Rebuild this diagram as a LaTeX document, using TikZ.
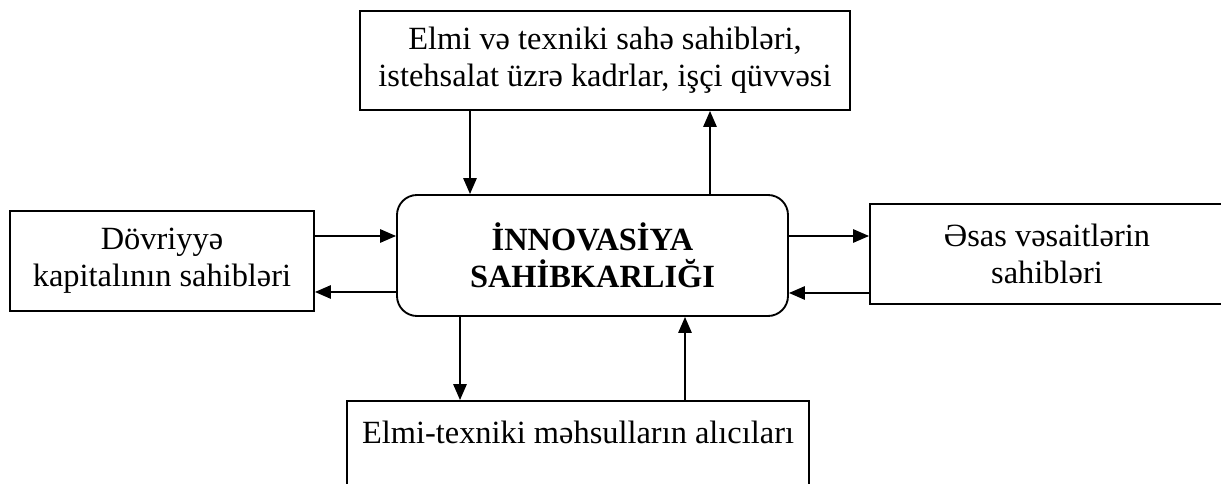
\documentclass[tikz,border=0pt]{standalone}
\usepackage{fontspec}
\setmainfont{Liberation Serif}
\usetikzlibrary{arrows.meta}

\tikzset{
  party/.style={draw, line width=1.4pt, align=center, inner sep=0pt,
    font=\fontsize{24.3}{27.5}\selectfont},
  core/.style={draw, line width=1.4pt, rounded corners=15pt, align=center,
    inner sep=0pt, font=\fontsize{24.3}{27.5}\selectfont\bfseries},
  flow/.style={line width=1.4pt, -{Triangle[length=12pt,width=10pt]}}
}

\begin{document}
\begin{tikzpicture}[x=0.75pt,y=0.75pt,yscale=-1,xscale=1]
%set diagram to the page size, boxes on the right and bottom run out of it
\clip (0,0) rectangle (1221,484);

%Centre: innovation entrepreneurship
\node [core, minimum width=293.25pt, minimum height=90.75pt] (centre) at (592.5,255.5) {İNNOVASİYA\\SAHİBKARLIĞI};
%Top
\node [party, minimum width=367.5pt, minimum height=74.25pt] (staff) at (605,60.5) {Elmi və texniki sahə sahibləri,\\istehsalat üzrə kadrlar, işçi qüvvəsi};
%Left
\node [party, minimum width=228pt, minimum height=75pt] (capital) at (162,261) {Dövriyyə\\kapitalının sahibləri};
%Right
\node [party, minimum width=265.5pt, minimum height=75pt] (assets) at (1047,254) {Əsas vəsaitlərin\\sahibləri};
%Bottom
\node [party, minimum width=346.5pt, minimum height=75pt] (buyers) at (578,451) {Elmi-texniki məhsulların alıcıları\\~};

%Arrows
\draw [flow] (staff.south -| 470,0) -- (centre.north -| 470,0);
\draw [flow] (centre.north -| 710,0) -- (staff.south -| 710,0);
\draw [flow] (capital.east |- 0,236) -- (centre.west |- 0,236);
\draw [flow] (centre.west |- 0,292) -- (capital.east |- 0,292);
\draw [flow] (centre.east |- 0,236) -- (assets.west |- 0,236);
\draw [flow] (assets.west |- 0,293) -- (centre.east |- 0,293);
\draw [flow] (centre.south -| 460,0) -- (buyers.north -| 460,0);
\draw [flow] (buyers.north -| 685,0) -- (centre.south -| 685,0);

\end{tikzpicture}
\end{document}
